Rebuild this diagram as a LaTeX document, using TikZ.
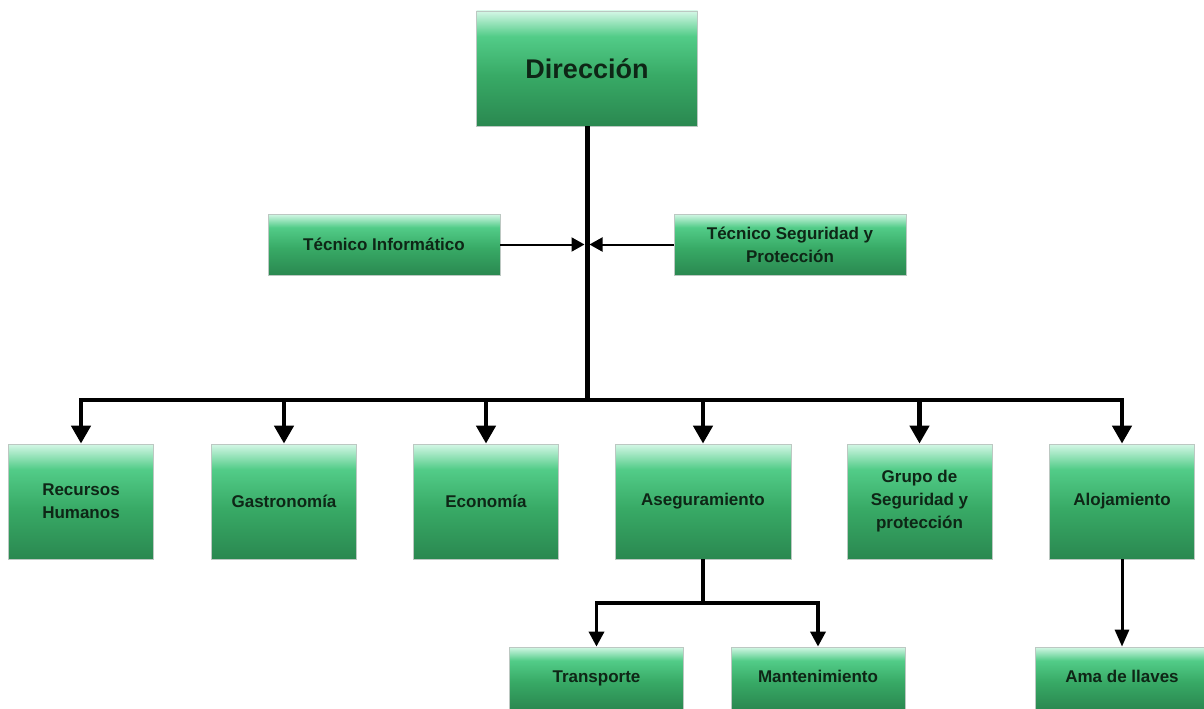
\documentclass[tikz,border=0pt]{standalone}
\usepackage{fontspec}
\setmainfont{Liberation Sans}
\usetikzlibrary{arrows.meta}

% palette
\definecolor{gA}{RGB}{42,136,80}
\definecolor{gB}{RGB}{56,170,102}
\definecolor{gC}{RGB}{82,204,136}
\definecolor{gD}{RGB}{212,247,230}
\definecolor{boxedge}{RGB}{188,200,194}
\definecolor{ink}{RGB}{14,38,22}

% green box fill, dark at the bottom, pale at the top
\pgfdeclareverticalshading{orgfill}{100bp}{%
  color(0bp)=(gA); color(25bp)=(gA); color(47bp)=(gB);
  color(64bp)=(gC); color(75bp)=(gD); color(100bp)=(gD)}

\newcommand\lblfont{\fontsize{17}{23}\selectfont\bfseries}
\newcommand\topfont{\fontsize{27}{32}\selectfont\bfseries}

\tikzset{
  unit/.style={draw=boxedge, line width=0.8pt, shading=orgfill,
    inner sep=0pt, align=center, text=ink, font=\lblfont},
  headbox/.style={unit, minimum width=221pt, minimum height=115pt, font=\topfont},
  staffbox/.style={unit, minimum width=232pt, minimum height=61pt},
  deptbox/.style={unit, minimum width=145pt, minimum height=115pt},
  subbox/.style={unit, minimum width=174pt, minimum height=62pt,
    text height=12pt, text depth=3pt},
  trunk/.style={line width=5pt, black},
  busline/.style={line width=4.5pt, black, -{Triangle[length=18pt,width=19pt]}},
  sideline/.style={line width=2pt, black, -{Triangle[length=13pt,width=14pt]}},
  subline/.style={line width=3.5pt, black, -{Triangle[length=15pt,width=15pt]}},
}

\begin{document}
\begin{tikzpicture}[x=1pt,y=-1pt]
\useasboundingbox[fill=white] (0,0) rectangle (1204,709);

% head
\node[headbox] (dir) at (587,68.5) {Dirección};

% staff units
\node[staffbox] (ti) at (384,244.5) {Técnico Informático};
\node[staffbox] (ts) at (790,244.5) {Técnico Seguridad y\\Protección};

% departments
\node[deptbox] (rh) at (81,501.5) {Recursos\\Humanos};
\node[deptbox] (ga) at (284,501.5) {Gastronomía};
\node[deptbox] (ec) at (486,501.5) {Economía};
\node[deptbox, minimum width=176pt] (as) at (703,501.5) {Aseguramiento};
\node[deptbox] (gs) at (919.5,501.5) {Grupo de\\Seguridad y\\protección};
\node[deptbox] (al) at (1122,501.5) {Alojamiento};

% sub-units
\node[subbox] (tr) at (596.5,678) {Transporte};
\node[subbox] (mt) at (818,678) {Mantenimiento};
\node[subbox] (am) at (1122,678) {Ama de llaves};

% junction points
\coordinate (hub) at (587,244.5);
\coordinate (bus) at (587,400);
\coordinate (asj) at (703,603);

% trunk and staff links
\draw[trunk] (dir.south) -- (bus);
\draw[sideline] (ti.east) -- ([xshift=-2.5pt]hub);
\draw[sideline] (ts.west) -- ([xshift=2.5pt]hub);

% bus to departments
\foreach \d in {rh,ga,ec,as,gs,al}
  \draw[busline] (bus) -| (\d.north);

% sub-unit links
\draw[line width=3.5pt] (as.south) -- (asj);
\draw[subline] (asj) -| (tr.north);
\draw[subline] (asj) -| (mt.north);
\draw[line width=3pt, -{Triangle[length=17pt,width=14pt]}] (al.south) -- (am.north);
\end{tikzpicture}
\end{document}
